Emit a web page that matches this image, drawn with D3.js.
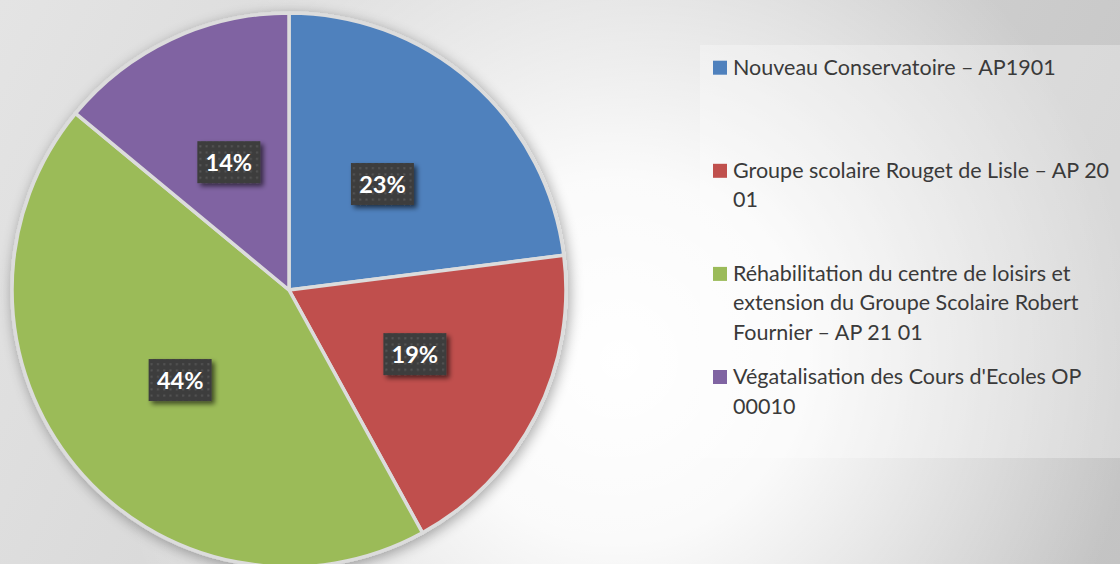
<!DOCTYPE html>
<html>
<head>
<meta charset="utf-8">
<script src="https://cdn.jsdelivr.net/npm/d3@7"></script>
<style>
  html, body { margin: 0; padding: 0; background: #e0e0e0; }
  svg { display: block; }
  .legend-text { font-family: Lato, "Open Sans", sans-serif; font-size: 21.5px; fill: #3a3a3a; }
  .pct { font-family: Lato, "Open Sans", sans-serif; font-size: 23.5px; font-weight: bold; fill: #ffffff; }
</style>
</head>
<body>
<svg width="1120" height="564"></svg>
<script>
// chart data
const categories = [
    "Nouveau Conservatoire – AP1901",
    "Groupe scolaire Rouget de Lisle – AP 20\n01",
    "Réhabilitation du centre de loisirs et\nextension du Groupe Scolaire Robert\nFournier – AP 21 01",
    "Végatalisation des Cours d'Ecoles OP\n00010"
];
const values = [23, 19, 44, 14];
const colors = ["#4f81bd", "#c0504d", "#9bbb59", "#8064a2"];

var svg = d3.select("svg"),
    width = +svg.attr("width"),
    height = +svg.attr("height");

var defs = svg.append("defs");

// background: diagonal grey gradient plus a white highlight
var bg = defs.append("linearGradient")
    .attr("id", "bg")
    .attr("gradientUnits", "userSpaceOnUse")
    .attr("x1", 0).attr("y1", 0).attr("x2", 1120).attr("y2", 564);
bg.append("stop").attr("offset", "0%").attr("stop-color", "#e4e4e4");
bg.append("stop").attr("offset", "100%").attr("stop-color", "#c3c3c3");

var hl = defs.append("radialGradient")
    .attr("id", "hl")
    .attr("gradientUnits", "userSpaceOnUse")
    .attr("cx", 620).attr("cy", 360).attr("r", 520);
hl.append("stop").attr("offset", "0%").attr("stop-color", "#ffffff").attr("stop-opacity", 1);
hl.append("stop").attr("offset", "35%").attr("stop-color", "#ffffff").attr("stop-opacity", 0.9);
hl.append("stop").attr("offset", "100%").attr("stop-color", "#ffffff").attr("stop-opacity", 0);

// soft shadow under the pie
var pieShadow = defs.append("filter").attr("id", "pieShadow")
    .attr("x", "-20%").attr("y", "-20%").attr("width", "140%").attr("height", "140%");
pieShadow.append("feGaussianBlur").attr("in", "SourceAlpha").attr("stdDeviation", 7).attr("result", "blur");
pieShadow.append("feOffset").attr("in", "blur").attr("dx", 2).attr("dy", 3).attr("result", "off");
pieShadow.append("feComponentTransfer").attr("in", "off").attr("result", "sh")
    .append("feFuncA").attr("type", "linear").attr("slope", 0.35);
var pm = pieShadow.append("feMerge");
pm.append("feMergeNode").attr("in", "sh");
pm.append("feMergeNode").attr("in", "SourceGraphic");

// label box shadow
var boxShadow = defs.append("filter").attr("id", "boxShadow")
    .attr("x", "-30%").attr("y", "-30%").attr("width", "160%").attr("height", "160%");
boxShadow.append("feGaussianBlur").attr("in", "SourceAlpha").attr("stdDeviation", 2.5).attr("result", "blur");
boxShadow.append("feOffset").attr("in", "blur").attr("dx", 3).attr("dy", 3).attr("result", "off");
boxShadow.append("feComponentTransfer").attr("in", "off").attr("result", "sh")
    .append("feFuncA").attr("type", "linear").attr("slope", 0.6);
var bm = boxShadow.append("feMerge");
bm.append("feMergeNode").attr("in", "sh");
bm.append("feMergeNode").attr("in", "SourceGraphic");

// dotted pattern for the label boxes
var dots = defs.append("pattern")
    .attr("id", "dots")
    .attr("patternUnits", "userSpaceOnUse")
    .attr("width", 6.3).attr("height", 6.3);
dots.append("rect").attr("width", 6.3).attr("height", 6.3).attr("fill", "#3d3d3d");
dots.append("rect").attr("x", 2).attr("y", 2).attr("width", 2).attr("height", 2).attr("fill", "#555555");

svg.append("rect")
    .attr("width", width)
    .attr("height", height)
    .attr("fill", "url(#bg)");
svg.append("rect")
    .attr("width", width)
    .attr("height", height)
    .attr("fill", "url(#hl)");

// legend panel
svg.append("rect")
    .attr("x", 700).attr("y", 45)
    .attr("width", 430).attr("height", 413)
    .attr("fill", "#ffffff")
    .attr("opacity", 0.3);

// pie
const cx = 289, cy = 290, radius = 277;
var colorScale = d3.scaleOrdinal().domain(categories).range(colors);

var pie = d3.pie()
    .sort(null)
    .value(d => d.value);

var arcs = pie(categories.map((c, i) => ({ name: c, value: values[i] })));

var arc = d3.arc().innerRadius(0).outerRadius(radius);
var labelArc = d3.arc().innerRadius(radius * 0.51).outerRadius(radius * 0.51);

var g = svg.append("g")
    .attr("transform", "translate(" + cx + "," + cy + ")");

g.append("g")
    .attr("filter", "url(#pieShadow)")
    .selectAll("path")
    .data(arcs)
    .enter().append("path")
    .attr("d", arc)
    .attr("fill", d => colorScale(d.data.name))
    .attr("stroke", "#dcdcdc")
    .attr("stroke-width", 3.5)
    .attr("stroke-linejoin", "round");

// percentage labels
const boxW = 63, boxH = 42;
var labels = g.selectAll("g.label")
    .data(arcs)
    .enter().append("g")
    .attr("class", "label")
    .attr("transform", d => "translate(" + labelArc.centroid(d) + ")");

labels.append("rect")
    .attr("x", -boxW / 2).attr("y", -boxH / 2)
    .attr("width", boxW).attr("height", boxH)
    .attr("fill", "url(#dots)")
    .attr("filter", "url(#boxShadow)");

labels.append("text")
    .attr("class", "pct")
    .attr("text-anchor", "middle")
    .attr("dy", "0.36em")
    .text(d => d3.format(".0%")(d.data.value / d3.sum(values)));

// legend
var legendY = d3.scalePoint()
    .domain(categories)
    .range([74.7, 384]);

var legend = svg.append("g").attr("class", "legend");
var items = legend.selectAll("g")
    .data(categories)
    .enter().append("g")
    .attr("transform", d => "translate(713," + legendY(d) + ")");

items.append("rect")
    .attr("x", 0).attr("y", -14)
    .attr("width", 14).attr("height", 14)
    .attr("fill", d => colorScale(d));

items.append("text")
    .attr("class", "legend-text")
    .selectAll("tspan")
    .data(d => d.split("\n"))
    .enter().append("tspan")
    .attr("x", 20)
    .attr("y", (d, i) => i * 29.5)
    .text(d => d);
</script>
</body>
</html>
